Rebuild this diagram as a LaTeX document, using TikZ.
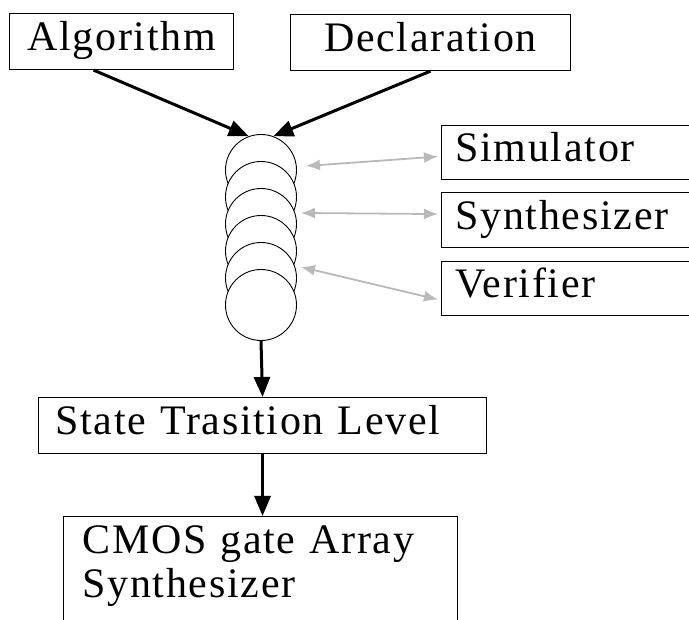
\documentclass[tikz,border=0pt]{standalone}
\usepackage{fontspec}
\setmainfont{Liberation Serif}[LetterSpace=4]
\usetikzlibrary{arrows.meta, calc}

\begin{document}
\begin{tikzpicture}[x=1pt, y=-1pt, >={Triangle[length=20pt,width=16pt]},
  box/.style={draw, line width=1.1pt, inner sep=0pt, text height=29pt, text depth=11pt, font=\fontsize{42}{44}\selectfont},
  lbox/.style={box, anchor=north west, align=left},
  disc/.style={draw, circle, fill=white, line width=0.9pt, minimum size=71pt, inner sep=0pt},
  flow/.style={->, line width=3pt},
  link/.style={{Latex[length=14pt,width=11pt]}-{Latex[length=14pt,width=11pt]}, gray!55, line width=1.8pt}]
  \clip (0,0) rectangle (689,620);
  \node[box, anchor=north west, minimum width=224pt, minimum height=56pt] (algo) at (9,13) {Algorithm};
  \node[box, anchor=north west, minimum width=280pt, minimum height=56pt] (decl) at (290,14) {Declaration};
  \foreach \i in {1,...,6}
    \node[disc] (c\i) at (261,{143+27*\i}) {};
  \node[lbox, text width=232pt, inner xsep=14pt, minimum height=54pt] (sim) at (441,125) {Simulator};
  \node[lbox, text width=232pt, inner xsep=14pt, minimum height=55pt] (syn) at (441,192) {Synthesizer};
  \node[lbox, text width=232pt, inner xsep=14pt, minimum height=54pt] (ver) at (441,261) {Verifier};
  \node[lbox, text width=414pt, inner xsep=17pt, minimum height=56pt] (state) at (38,397) {State Trasition Level};
  \node[lbox, text width=356pt, inner xsep=19pt, inner ysep=8pt, text depth=70pt] (cmos) at (63,516) {CMOS gate Array\\Synthesizer};

  \draw[flow] ([xshift=-28pt]algo.south) -- (c1.110);
  \draw[flow] (decl.south) -- (c1.70);
  \draw[link] ([xshift=9pt,yshift=4pt]c1.east) -- ([xshift=-3pt,yshift=-4pt]sim.west);
  \draw[link] ([xshift=4pt,yshift=11pt]c3.east) -- ([xshift=-3pt,yshift=6pt]syn.west);
  \draw[link] ([xshift=4pt,yshift=11pt]c5.east) -- ([xshift=-3pt,yshift=-11pt]ver.west);
  \draw[flow] (c6.south) -- (state.north);
  \draw[flow] (state.south) -- (state.south |- cmos.north);
\end{tikzpicture}
\end{document}
